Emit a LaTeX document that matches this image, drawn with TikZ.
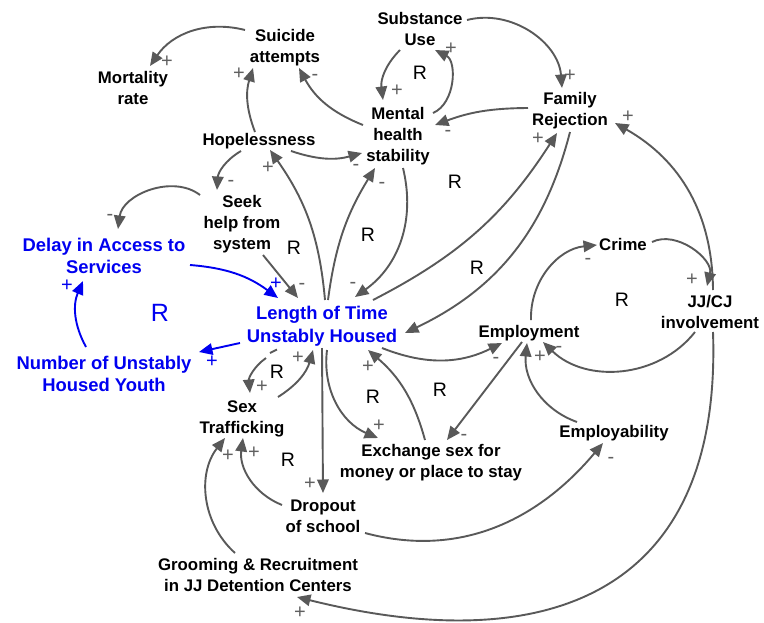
\documentclass[tikz,border=0pt]{standalone}
\usepackage{fontspec}
\setmainfont{Liberation Sans}
\usetikzlibrary{arrows.meta,calc}
\definecolor{linkgray}{HTML}{595959}
\definecolor{signgray}{HTML}{606060}
\definecolor{varblue}{HTML}{0000F0}

\begin{document}
\begin{tikzpicture}[x=1pt,y=1pt,
  var/.style={font=\fontsize{16.8}{21}\selectfont\bfseries, align=center, inner sep=0pt, text=black},
  keyvar/.style={font=\fontsize{18.4}{22.5}\selectfont\bfseries, align=center, inner sep=0pt, text=varblue},
  link/.style={draw=linkgray, line width=1.9pt, -{Triangle[length=13.5pt,width=11.5pt]}},
  keylink/.style={link, draw=varblue},
  sgn/.style={font=\fontsize{20}{20}\selectfont, text=signgray, inner sep=0pt},
  keysgn/.style={sgn, text=varblue},
  loopR/.style={font=\fontsize{19.5}{20}\selectfont, inner sep=0pt, text=black},
  keyloopR/.style={font=\fontsize{25}{26}\selectfont, inner sep=0pt, text=varblue}
]
\useasboundingbox (0,-622) rectangle (764,0);

% ---- variables ----
\node[var] (suic)  at (285,-48)  {Suicide\\attempts};
\node[var] (mort)  at (133,-88)  {Mortality\\rate};
\node[var] (hope)  at (259,-141) {Hopelessness};
\node[var] (subs)  at (420,-29)  {Substance\\Use};
\node[var] (ment)  at (398,-136) {Mental\\health\\stability};
\node[var] (fam)   at (570,-111) {Family\\Rejection};
\node[var] (seek)  at (242,-224) {Seek\\help from\\system};
\node[keyvar] (delay) at (104,-256) {Delay in Access to\\Services};
\node[keyvar] (num)   at (104,-374) {Number of Unstably\\Housed Youth};
\node[keyvar] (len)   at (322,-326) {Length of Time\\Unstably Housed};
\node[var] (emp)   at (529,-333) {Employment};
\node[var] (crime) at (623,-244) {Crime};
\node[var] (jj)    at (710,-312) {JJ/CJ\\involvement};
\node[var] (emply) at (614,-433) {Employability};
\node[var] (exch)  at (431,-463) {Exchange sex for\\money or place to stay};
\node[var] (sex)   at (242,-419) {Sex\\Trafficking};
\node[var] (drop)  at (323,-516) {Dropout\\of school};
\node[var] (groom) at (258,-575) {Grooming \& Recruitment\\in JJ Detention Centers};

% ---- causal links ----
\draw[link] ($(suic)+(-40,18)$) to[bend right=35] ($(mort)+(17,22)$);
\draw[link] ($(hope)+(-4,9)$) to[bend left=19] ($(suic)+(-32,-20)$);
\draw[link] ($(ment)+(-35,11)$) to[bend left=20] ($(suic)+(14,-20)$);
\draw[link] ($(hope)+(32,-10)$) to[bend right=17] ($(ment)+(-36,-17)$);
\draw[link] ($(hope)+(-18,-10)$) to[bend right=28] ($(seek)+(-25,34)$);
\draw[link] ($(seek)+(-42,29)$) to[bend right=60] ($(delay)+(14,27)$);
\draw[keylink] ($(delay)+(86,-9)$) to[bend left=16] ($(len)+(-44,28)$);
\draw[link] ($(seek)+(21,-31)$) -- ($(len)+(-24,28)$);
\draw[keylink] ($(len)+(-82,-17)$) -- ($(num)+(95,22)$);
\draw[keylink] ($(num)+(-18,27)$) to[bend left=26] ($(delay)+(-21,-25)$);
\draw[link] ($(len)+(3,26)$) to[bend right=15] ($(hope)+(11,-9)$);
\draw[link] ($(len)+(6,26)$) to[bend left=12] ($(ment)+(-23,-32)$);
\draw[link] ($(ment)+(5,-32)$) to[bend left=34] ($(len)+(33,29)$);
\draw[link] ($(subs)+(-20,-21)$) to[bend right=26] ($(ment)+(-15,36)$);
\draw[link] ($(ment)+(35,23)$) to[bend right=65] ($(subs)+(15,-21)$);
\draw[link] ($(subs)+(47,9)$) to[bend left=50] ($(fam)+(-8,23)$);
\draw[link] ($(fam)+(-42,3)$) to[bend right=10] ($(ment)+(37,11)$);
\draw[link] ($(len)+(51,26)$) to[bend right=15] ($(fam)+(-13,-22)$);
\draw[link] ($(fam)+(0,-21)$) to[bend left=25] ($(len)+(83,-7)$);
\draw[link] ($(jj)+(3,22)$) to[bend right=30] ($(fam)+(45,-12)$);
\draw[link] ($(crime)+(29,2)$) to[bend left=65] ($(jj)+(-3,26)$);
\draw[link] ($(emp)+(2,13)$) to[bend left=43] ($(crime)+(-26,-1)$);
\draw[link] ($(jj)+(-15,-20)$) to[bend left=48] ($(emp)+(14,-9)$);
\draw[link] ($(emply)+(-37,11)$) to[bend left=38] ($(emp)+(-2,-10)$);
\draw[link] ($(len)+(60,-22)$) to[bend right=24] ($(emp)+(-27,-10)$);
\draw[link] ($(emp)+(-7,-9)$) -- ($(exch)+(16,23)$);
\draw[link] ($(exch)+(-6,23)$) to[bend right=17] ($(len)+(46,-24)$);
\draw[link] ($(len)+(5,-24)$) to[bend right=37] ($(exch)+(-53,25)$);
\draw[link] ($(len)+(0,-22)$) -- ($(drop)+(0,23)$);
\draw[link] ($(len)+(-56,-32)$) to[bend right=30] ($(sex)+(8,26)$);
\draw[draw=linkgray, line width=1.9pt] ($(len)+(-52,-27)$) -- ($(len)+(-45,-23.5)$);
\draw[link] ($(sex)+(36,22)$) to[bend right=21] ($(len)+(-9,-24)$);
\draw[link] ($(drop)+(-41,11)$) to[bend left=38] ($(sex)+(1,-19)$);
\draw[link] ($(groom)+(-23,22)$) to[bend left=43] ($(sex)+(-17,-19)$);
\draw[link] ($(drop)+(42,-17)$) to[out=-15,in=230] ($(emply)+(-11,-10)$);
\draw[link] ($(jj)+(3,-20)$) to[out=-88,in=-14,looseness=1.35] ($(groom)+(39,-22)$);

% ---- link polarities ----
\node[sgn] (s1)  at (167,-62)  {+};
\node[sgn] (s2)  at (239,-74)  {+};
\node[sgn] (s3)  at (315,-77)  {-};
\node[sgn] (s4)  at (356,-167) {-};
\node[sgn] (s5)  at (231,-183) {-};
\node[sgn] (s6)  at (110,-217) {-};
\node[keysgn] (s7) at (276,-284) {+};
\node[sgn] (s8)  at (302,-286) {-};
\node[keysgn] (s9) at (212,-362) {+};
\node[keysgn] (s10) at (67,-286) {+};
\node[sgn] (s11) at (268,-168) {+};
\node[sgn] (s12) at (382,-185) {-};
\node[sgn] (s13) at (353,-285) {-};
\node[sgn] (s14) at (397,-91)  {+};
\node[sgn] (s15) at (451,-49)  {+};
\node[sgn] (s16) at (570,-76)  {+};
\node[sgn] (s17) at (448,-133) {-};
\node[sgn] (s18) at (538,-139) {+};
\node[sgn] (s20) at (628,-117) {+};
\node[sgn] (s21) at (692,-280) {+};
\node[sgn] (s22) at (588,-261) {-};
\node[sgn] (s23) at (559,-349) {-};
\node[sgn] (s24) at (540,-357) {+};
\node[sgn] (s25) at (496,-360) {-};
\node[sgn] (s26) at (464,-437) {-};
\node[sgn] (s27) at (368,-367) {+};
\node[sgn] (s28) at (379,-426) {+};
\node[sgn] (s29) at (310,-484) {+};
\node[sgn] (s30) at (262,-387) {+};
\node[sgn] (s31) at (298,-358) {+};
\node[sgn] (s32) at (254,-453) {+};
\node[sgn] (s33) at (228,-456) {+};
\node[sgn] (s34) at (611,-460) {-};
\node[sgn] (s35) at (300,-613) {+};

% ---- loop markers ----
\node[loopR] (r1)  at (420,-73)  {R};
\node[loopR] (r2)  at (455,-182) {R};
\node[loopR] (r3)  at (477,-268) {R};
\node[loopR] (r4)  at (368,-235) {R};
\node[loopR] (r5)  at (294,-248) {R};
\node[loopR] (r6)  at (622,-300) {R};
\node[loopR] (r7)  at (373,-397) {R};
\node[loopR] (r8)  at (440,-390) {R};
\node[loopR] (r9)  at (277,-372) {R};
\node[loopR] (r10) at (288,-460) {R};
\node[keyloopR] (r11) at (160,-313) {R};
\end{tikzpicture}
\end{document}
